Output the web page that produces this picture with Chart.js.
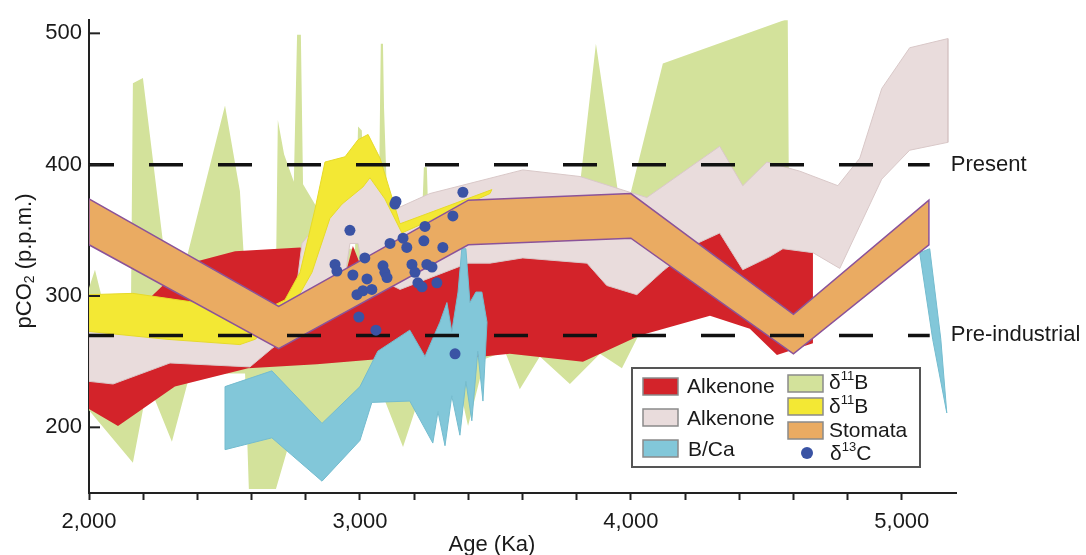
<!DOCTYPE html>
<html>
<head>
<meta charset="utf-8">
<title>pCO2 reconstructions</title>
<script src="https://cdn.jsdelivr.net/npm/chart.js@4.4.1/dist/chart.umd.min.js"></script>
<style>
  html, body { margin: 0; padding: 0; background: #fff; }
  #box { width: 1086px; height: 555px; }
</style>
</head>
<body>
<div id="box"><canvas id="co2"></canvas></div>
<script>
// ages in Ka, pCO2 in p.p.m.
// each band = upper edge + lower edge, both listed left to right

const stomataAge = [2000, 2700, 3400, 4000, 4600, 5100];
const stomataHigh = [374, 292, 373, 378, 286, 373];
const stomataLow = [339, 260, 339, 344, 256, 339];

const yellowTopAge = [2000, 2162, 2531, 2613, 2723, 2779, 2834, 2871, 2945, 2993, 3030, 3074, 3148, 3487];
const yellowTopPpm = [301, 302, 291, 286, 297, 318, 366, 402, 406, 419, 423, 405, 355, 381];
const yellowLowAge = [2000, 2288, 2557, 2613, 2686, 2760, 2823, 2889, 2934, 3011, 3037, 3092, 3155, 3480];
const yellowLowPpm = [273, 267, 263, 267, 280, 295, 318, 359, 370, 383, 390, 374, 348, 378];

const greenTopAge = [2000, 2022, 2052, 2155, 2162, 2199, 2292, 2336, 2502, 2557, 2576, 2690, 2697, 2720, 2756, 2768, 2782, 2790, 2845, 2871, 2982, 2993, 3007, 3015, 3070, 3074, 3077, 3085, 3089, 3096, 3103, 3229, 3236, 3247, 3251, 3804, 3871, 3959, 3989, 4118, 4579, 4583];
const greenTopPpm = [306, 320, 295, 295, 462, 466, 309, 309, 445, 380, 314, 314, 434, 408, 387, 499, 499, 385, 366, 336, 336, 429, 426, 370, 370, 443, 492, 492, 443, 400, 359, 359, 398, 398, 370, 370, 492, 370, 370, 477, 511, 389];
const greenLowAge = [2000, 2162, 2218, 2306, 2373, 2576, 2590, 2690, 2742, 2889, 3037, 3085, 3159, 3221, 3314, 3351, 3399, 3461, 3535, 3590, 3664, 3775, 3886, 3967, 4033, 4255, 4583];
const greenLowPpm = [213, 173, 234, 189, 241, 241, 153, 153, 190, 190, 224, 224, 185, 224, 235, 246, 201, 252, 258, 229, 254, 233, 256, 245, 272, 303, 325];

const redTopAge = [2000, 2188, 2232, 2354, 2539, 2779, 2952, 2974, 3007, 3148, 3399, 3601, 3838, 3911, 4022, 4118, 4244, 4328, 4413, 4513, 4561, 4672];
const redTopPpm = [239, 241, 300, 324, 334, 337, 321, 338, 321, 309, 329, 331, 329, 312, 304, 322, 343, 349, 324, 333, 338, 334];
const redLowAge = [2000, 2107, 2317, 2587, 2841, 3074, 3269, 3553, 3823, 4033, 4292, 4439, 4539, 4672];
const redLowPpm = [214, 201, 231, 245, 248, 252, 250, 256, 250, 270, 285, 275, 255, 264];

const pinkTopAge = [2000, 2410, 2649, 2764, 2786, 2900, 3030, 3129, 3258, 3601, 3812, 3996, 4059, 4328, 4413, 4502, 4624, 4764, 4845, 4926, 5029, 5170];
const pinkTopPpm = [280, 273, 280, 303, 340, 370, 394, 366, 378, 396, 391, 379, 375, 414, 384, 402, 395, 384, 405, 458, 489, 496];
const pinkLowAge = [2000, 2089, 2299, 2594, 2675, 2779, 2926, 2948, 2963, 2993, 3011, 3148, 3399, 3480, 3601, 3838, 3911, 4022, 4118, 4244, 4328, 4413, 4513, 4561, 4672, 4771, 4926, 5029, 5170];
const pinkLowPpm = [235, 233, 249, 246, 260, 276, 314, 319, 340, 340, 319, 305, 325, 325, 329, 325, 308, 301, 319, 340, 348, 320, 330, 336, 333, 321, 389, 411, 417];

const bcaTopAge = [2502, 2675, 2860, 3000, 3066, 3184, 3240, 3295, 3321, 3339, 3362, 3376, 3391, 3406, 3428, 3450, 3469];
const bcaTopPpm = [231, 243, 203, 231, 258, 274, 254, 280, 295, 273, 303, 336, 336, 295, 303, 303, 280];
const bcaLowAge = [2502, 2675, 2860, 3000, 3044, 3184, 3269, 3288, 3314, 3339, 3369, 3391, 3413, 3435, 3454, 3469];
const bcaLowPpm = [183, 192, 159, 190, 219, 220, 188, 212, 186, 224, 194, 235, 205, 258, 220, 280];

const bca2TopAge = [5066, 5103, 5144, 5166];
const bca2TopPpm = [333, 336, 267, 211];
const bca2LowAge = [5066, 5114, 5166];
const bca2LowPpm = [333, 267, 211];

const d13cAge = [2963, 2908, 2915, 3018, 2974, 3026, 2989, 3011, 3044, 3085, 3092, 3100, 3111, 3129, 3133, 3159, 3173, 3192, 3203, 3214, 3229, 3240, 3236, 3247, 3266, 3284, 3306, 3343, 3380, 2996, 3059, 3351];
const d13cPpm = [350, 324, 319, 329, 316, 313, 301, 304, 305, 323, 318, 314, 340, 370, 372, 344, 337, 324, 318, 310, 307, 353, 342, 324, 322, 310, 337, 361, 379, 284, 274, 256];

const refLevels = [400, 270];
const refNames = ['Present', 'Pre-industrial'];
const refStart = 2000, refEnd = 5103;

const yTicks = [200, 300, 400, 500];

const RED = '#d3232a', PINK = '#e9dcdc', GREEN = '#d3e29b', YELLOW = '#f3e834',
      ORANGE = '#eaab62', PURPLE = '#8b5399', CYAN = '#82c7d9', DOT = '#3a53a4';
const FONT = '"Liberation Sans", Arial, Helvetica, sans-serif';

// upper edge forward, lower edge back, closed
function outline(ua, uv, la, lv) {
  const pts = ua.map((a, i) => ({x: a, y: uv[i]}));
  for (let i = la.length - 1; i >= 0; i--) pts.push({x: la[i], y: lv[i]});
  pts.push(pts[0]);
  return pts;
}

function band(label, pts, color, edge, edgeW, order) {
  return {
    type: 'line', label: label, data: pts, fill: 'shape',
    backgroundColor: color, borderColor: edge, borderWidth: edgeW,
    pointRadius: 0, tension: 0, order: order
  };
}

function refLine(v) {
  return {
    type: 'line', data: [{x: refStart, y: v}, {x: refEnd, y: v}],
    borderColor: '#111', borderWidth: 3.5, borderDash: [34, 35], borderDashOffset: 9,
    pointRadius: 0, fill: false, order: 1
  };
}

// draws a run of text pieces, some raised or lowered
function richText(ctx, parts, x, y, align) {
  let w = 0;
  parts.forEach(p => { ctx.font = p.s + 'px ' + FONT; w += ctx.measureText(p.t).width; });
  let cx = align === 'center' ? x - w / 2 : x;
  ctx.textAlign = 'left';
  ctx.textBaseline = 'middle';
  parts.forEach(p => {
    ctx.font = p.s + 'px ' + FONT;
    ctx.fillText(p.t, cx, y + (p.dy || 0));
    cx += ctx.measureText(p.t).width;
  });
}

const sup = (a, n, b) => [{t: a, s: 21}, {t: n, s: 13, dy: -7}, {t: b, s: 21}];

const overlay = {
  id: 'overlay',
  afterDraw(chart) {
    const {ctx, scales: {x, y}} = chart;
    ctx.save();
    ctx.fillStyle = '#1a1a1a';
    ctx.strokeStyle = '#222';
    ctx.lineWidth = 2;

    // inward y ticks
    yTicks.forEach(v => {
      const py = y.getPixelForValue(v);
      ctx.beginPath(); ctx.moveTo(x.left, py); ctx.lineTo(x.left + 11, py); ctx.stroke();
    });

    // reference labels
    ctx.font = '22px ' + FONT;
    ctx.textAlign = 'left';
    ctx.textBaseline = 'middle';
    refLevels.forEach((v, i) => {
      ctx.fillText(refNames[i], x.getPixelForValue(refEnd) + 21, y.getPixelForValue(v));
    });

    // axis titles
    ctx.textAlign = 'center';
    ctx.fillText('Age (Ka)', 492, 545);
    ctx.save();
    ctx.translate(25, 261);
    ctx.rotate(-Math.PI / 2);
    richText(ctx, [{t: 'pCO', s: 22}, {t: '2', s: 14, dy: 5}, {t: ' (p.p.m.)', s: 22}], 0, 0, 'center');
    ctx.restore();

    // legend
    ctx.fillStyle = '#fff';
    ctx.fillRect(632, 368, 288, 99);
    ctx.strokeStyle = '#555';
    ctx.lineWidth = 2;
    ctx.strokeRect(632, 368, 288, 99);

    const sw = [
      [643, 378, RED], [643, 409, PINK], [643, 440, CYAN],
      [788, 375, GREEN], [788, 398, YELLOW], [788, 422, ORANGE]
    ];
    ctx.lineWidth = 1.5;
    ctx.strokeStyle = '#8a8a8a';
    sw.forEach(s => {
      ctx.fillStyle = s[2];
      ctx.fillRect(s[0], s[1], 35, 17);
      ctx.strokeRect(s[0], s[1], 35, 17);
    });
    ctx.fillStyle = DOT;
    ctx.beginPath(); ctx.arc(807, 453, 6, 0, Math.PI * 2); ctx.fill();

    ctx.fillStyle = '#1a1a1a';
    richText(ctx, [{t: 'Alkenone', s: 21}], 687, 387);
    richText(ctx, [{t: 'Alkenone', s: 21}], 687, 419);
    richText(ctx, [{t: 'B/Ca', s: 21}], 688, 450);
    richText(ctx, sup('δ', '11', 'B'), 829, 383);
    richText(ctx, sup('δ', '11', 'B'), 829, 407);
    richText(ctx, [{t: 'Stomata', s: 21}], 829, 431);
    richText(ctx, sup('δ', '13', 'C'), 830, 454);
    ctx.restore();
  }
};

new Chart(document.getElementById('co2'), {
  type: 'line',
  data: {
    datasets: [
      {
        type: 'scatter', label: 'δ13C',
        data: d13cAge.map((a, i) => ({x: a, y: d13cPpm[i]})),
        backgroundColor: DOT, borderWidth: 0, pointRadius: 5.5, order: 0
      },
      refLine(refLevels[0]),
      refLine(refLevels[1]),
      band('Stomata', outline(stomataAge, stomataHigh, stomataAge, stomataLow), ORANGE, PURPLE, 1.5, 2),
      band('δ11B (yellow)', outline(yellowTopAge, yellowTopPpm, yellowLowAge, yellowLowPpm), YELLOW, '#e6da2a', 1, 3),
      band('B/Ca', outline(bcaTopAge, bcaTopPpm, bcaLowAge, bcaLowPpm), CYAN, '#74bccf', 1, 4),
      band('B/Ca 2', outline(bca2TopAge, bca2TopPpm, bca2LowAge, bca2LowPpm), CYAN, '#74bccf', 1, 4),
      band('Alkenone (pink)', outline(pinkTopAge, pinkTopPpm, pinkLowAge, pinkLowPpm), PINK, '#d9c8c8', 1, 5),
      band('Alkenone (red)', outline(redTopAge, redTopPpm, redLowAge, redLowPpm), RED, RED, 0, 6),
      band('δ11B (green)', outline(greenTopAge, greenTopPpm, greenLowAge, greenLowPpm), GREEN, GREEN, 0, 7)
    ]
  },
  options: {
    responsive: true,
    maintainAspectRatio: false,
    animation: false,
    events: [],
    layout: {padding: {left: 0, right: 130, top: 14, bottom: 0}},
    plugins: {legend: {display: false}, tooltip: {enabled: false}},
    scales: {
      x: {
        type: 'linear', min: 2000, max: 5200, z: 1,
        afterFit: s => { s.height = 62; },
        afterBuildTicks: s => { s.ticks = s.ticks.filter(t => t.value < 5200); },
        ticks: {
          stepSize: 200, autoSkip: false, maxRotation: 0, padding: 9,
          color: '#1a1a1a', font: {family: FONT, size: 22},
          callback: v => (v % 1000 === 0 ? v.toLocaleString('en-US') : '')
        },
        grid: {display: true, drawOnChartArea: false, drawTicks: true, tickLength: 7, tickWidth: 2, tickColor: '#222'},
        border: {display: true, color: '#222', width: 2}
      },
      y: {
        type: 'linear', min: 150, max: 510, z: 1,
        afterFit: s => { s.width = 89; },
        afterBuildTicks: s => { s.ticks = yTicks.map(v => ({value: v})); },
        ticks: {padding: 7, color: '#1a1a1a', font: {family: FONT, size: 22}},
        grid: {display: false, drawTicks: false},
        border: {display: true, color: '#222', width: 2}
      }
    }
  },
  plugins: [overlay]
});
</script>
</body>
</html>
